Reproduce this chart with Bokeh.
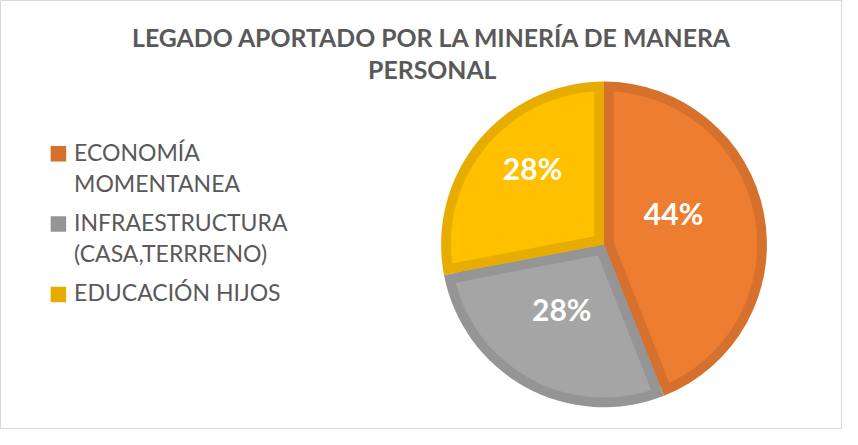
import numpy as np
from bokeh.plotting import figure
from bokeh.models import Range1d
from bokeh.core.properties import value
from bokeh.embed import file_html
from bokeh.resources import INLINE

# ---- data ----
title_lines = ["LEGADO APORTADO POR LA MINERÍA DE MANERA", "PERSONAL"]
categories = ["ECONOMÍA\nMOMENTANEA", "INFRAESTRUCTURA\n(CASA,TERRRENO)", "EDUCACIÓN HIJOS"]
values = [44, 28, 28]
pct_labels = ["44%", "28%", "28%"]

# ---- style ----
fill_colors = ["#ED7D31", "#A5A5A5", "#FFC000"]
edge_colors = ["#D5702D", "#959595", "#E6AD00"]
text_color = "#595959"
FONT = "Lato"
BASE_FIX = 0.42   # empirical shift of the svg alphabetic baseline (fraction of font size)

W, H = 842, 429
cx, cy = 603.5, 185.1   # pie centre (pixels in plot space)
R = 162.9               # outer radius
T = 9.7                 # border thickness

p = figure(width=W, height=H, x_range=Range1d(0, W), y_range=Range1d(0, H),
           output_backend="svg", toolbar_location=None, min_border=0,
           x_axis_type=None, y_axis_type=None,
           outline_line_color="#D9D9D9", outline_line_width=1,
           background_fill_color="white", border_fill_color="white")
p.grid.visible = False

vals = np.array(values, dtype=float)
frac = vals / vals.sum()
cum = np.concatenate([[0], np.cumsum(frac)])
start_deg = 90 - cum[:-1] * 360     # clockwise from 12 o'clock
end_deg = 90 - cum[1:] * 360
a_lo = np.radians(end_deg)
a_hi = np.radians(start_deg)

n = len(values)
# dark wedge (border colour)
p.wedge(x=[cx] * n, y=[cy] * n, radius=R, start_angle=a_lo, end_angle=a_hi,
        direction="anticlock", fill_color=edge_colors, line_color=None)
# light inner wedge
p.wedge(x=[cx] * n, y=[cy] * n, radius=R - T, start_angle=a_lo, end_angle=a_hi,
        direction="anticlock", fill_color=fill_colors, line_color=None)

# straight-edge borders, each on its own slice's side
x0s, y0s, x1s, y1s, cols = [], [], [], [], []
L = R - T
for i in range(n):
    for ang, perp in ((a_lo[i], a_lo[i] + np.pi / 2), (a_hi[i], a_hi[i] - np.pi / 2)):
        sx = cx + (T / 2) * np.cos(perp)
        sy = cy + (T / 2) * np.sin(perp)
        x0s.append(sx); y0s.append(sy)
        x1s.append(sx + L * np.cos(ang)); y1s.append(sy + L * np.sin(ang))
        cols.append(edge_colors[i])
p.segment(x0=x0s, y0=y0s, x1=x1s, y1=y1s, line_color=cols, line_width=T,
          line_cap="butt")

# percentage labels
lab_fs = 30
mid = (a_lo + a_hi) / 2
lab_r = np.array([0.463, 0.482, 0.635]) * R
lab_shift = np.radians([12.0, -3.8, -6.7])
lx = cx + lab_r * np.cos(mid + lab_shift)
ly = cy + lab_r * np.sin(mid + lab_shift)
p.text(x=lx, y=ly, text=pct_labels, text_align="center", text_baseline="alphabetic",
       y_offset=0.36 * lab_fs - BASE_FIX * lab_fs, text_font=value(FONT),
       text_font_style="bold", text_font_size=f"{lab_fs}px", text_color="white")

# title
title_fs = 24.8
ty0 = 381.8
p.text(x=[431.8] * len(title_lines), y=[ty0 - 31.8 * k for k in range(len(title_lines))],
       text=title_lines, text_align="center", text_baseline="alphabetic",
       y_offset=-BASE_FIX * title_fs,
       text_font=value(FONT), text_font_style="bold", text_font_size=f"{title_fs}px",
       text_color=text_color)

# legend
leg_fs = 23
base0 = 268.0
line_h = 30.9
gap = 8.5
tx, ty, tt = [], [], []
sq_y = []
lines_before = 0
for i, cat in enumerate(categories):
    parts = cat.split("\n")
    b = base0 - line_h * lines_before - gap * i
    sq_y.append(b + 7.7)
    for k, part in enumerate(parts):
        tx.append(73.6); ty.append(b - line_h * k); tt.append(part)
    lines_before += len(parts)
p.scatter(x=[57.9] * n, y=sq_y, marker="square", size=15.5, fill_color=edge_colors,
          line_color=None)
p.text(x=tx, y=ty, text=tt, text_align="left", text_baseline="alphabetic",
       y_offset=-BASE_FIX * leg_fs,
       text_font=value(FONT), text_font_size=f"{leg_fs}px", text_color=text_color)

open("out.html", "w").write(file_html(p, INLINE))
